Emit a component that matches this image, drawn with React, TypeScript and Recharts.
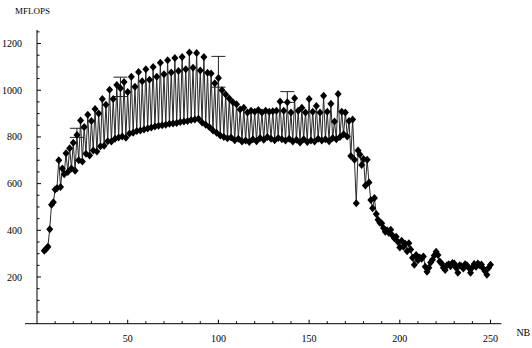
import { LineChart, Line, XAxis, YAxis, ErrorBar, ReferenceLine } from "recharts";

// MFLOPS for block size NB = 4 .. 250 (one value per NB)
const NB_START = 4;
const mflops = [
  312, 320, 330, 405, 510, 520, 575, 580,
  700, 585, 665, 640, 730, 650, 752, 665, 775, 655, 808, 700,
  870, 695, 842, 728, 895, 720, 868, 742, 920, 738, 900, 760,
  962, 762, 938, 782, 1002, 780, 962, 792, 1022, 798, 1008, 802,
  1035, 796, 992, 815, 1058, 818, 1015, 825, 1078, 828, 1038, 832,
  1090, 836, 1045, 840, 1100, 845, 1058, 848, 1118, 850, 1068, 852,
  1128, 856, 1076, 858, 1138, 860, 1082, 864, 1142, 866, 1090, 868,
  1162, 872, 1096, 875, 1160, 878, 1085, 862, 1142, 852, 1075, 842,
  1072, 828, 1030, 818, 1052, 806, 1000, 800, 982, 794, 965, 798,
  948, 786, 940, 792, 918, 780, 925, 785, 905, 778, 912, 790,
  908, 782, 915, 795, 905, 788, 912, 800, 908, 792, 910, 786,
  912, 795, 952, 790, 912, 785, 948, 792, 905, 780, 966, 788,
  912, 776, 925, 790, 905, 778, 962, 785, 908, 780, 933, 792,
  905, 785, 976, 790, 908, 782, 942, 795, 866, 790, 984, 800,
  908, 812, 905, 802, 868, 718, 875, 702, 516, 742, 725, 680,
  705, 592, 702, 605, 530, 495, 538, 470, 445, 432, 430, 410,
  394, 400, 388, 402, 378, 366, 372, 350, 326, 355, 330, 342,
  310, 345, 318, 282, 252, 294, 272, 284, 278, 288, 244, 222,
  240, 262, 274, 292, 308, 294, 266, 258, 240, 230, 250, 255,
  246, 260, 258, 240, 218, 250, 246, 236, 255, 250, 240, 218,
  242, 256, 244, 258, 250, 254, 236, 225, 210, 240, 252,
];

// [NB, error below, error above]
const errorBars: [number, number, number][] = [
  [22, 10, 29],
  [46, 35, 48],
  [100, 39, 93],
  [138, 0, 46],
];

const xTicks = [10, 20, 30, 40, 50, 60, 70, 80, 90, 100, 110, 120, 130, 140, 150, 160, 170, 180, 190, 200, 210, 220, 230, 240, 250];
const yTicks = [50, 100, 150, 200, 250, 300, 350, 400, 450, 500, 550, 600, 650, 700, 750, 800, 850, 900, 950, 1000, 1050, 1100, 1150, 1200, 1250];

const data = mflops.map((v, i) => {
  const nb = NB_START + i;
  const e = errorBars.find((b) => b[0] === nb);
  return { nb, mflops: v, err: e ? [e[1], e[2]] : undefined };
});

const FONT = "'Liberation Serif', 'DejaVu Serif', serif";

const Diamond = (props: any) => {
  const { cx, cy, index } = props;
  if (cx == null || cy == null) return <g key={index} />;
  const w = 3.5;
  const h = 4;
  return (
    <path
      key={index}
      d={`M${cx},${cy - h}L${cx + w},${cy}L${cx},${cy + h}L${cx - w},${cy}Z`}
      fill="#000"
    />
  );
};

const XTick = (props: any) => {
  const { x, y, payload } = props;
  const major = payload.value % 50 === 0;
  return (
    <g>
      <line x1={x} x2={x} y1={y} y2={y - (major ? 4 : 2.5)} stroke="#000" strokeWidth={1} />
      {major && (
        <text x={x} y={y + 18} textAnchor="middle" fontSize={10} fontFamily={FONT} fill="#000">
          {payload.value}
        </text>
      )}
    </g>
  );
};

const YTick = (props: any) => {
  const { x, y, payload } = props;
  const major = payload.value % 200 === 0;
  return (
    <g>
      <line x1={x} x2={x + (major ? 4 : 2.5)} y1={y} y2={y} stroke="#000" strokeWidth={1} />
      {major && (
        <text x={x - 15} y={y + 3.5} textAnchor="end" fontSize={10} fontFamily={FONT} fill="#000">
          {payload.value}
        </text>
      )}
    </g>
  );
};

export default function App() {
  return (
    <div style={{ width: 532, height: 348, background: "#fff" }}>
      <style>{"body{margin:0}"}</style>
      <LineChart
        width={532}
        height={348}
        data={data}
        margin={{ top: 30, right: 30.6, left: 0, bottom: 0 }}
      >
        <XAxis
          type="number"
          dataKey="nb"
          domain={[0, 256]}
          allowDataOverflow
          ticks={xTicks}
          interval={0}
          tickSize={0}
          tickMargin={0}
          tickLine={false}
          tick={<XTick />}
          height={24.3}
          axisLine={{ stroke: "#000", strokeWidth: 1 }}
          label={{ value: "NB", position: "right", offset: 15, fontSize: 10, fontFamily: FONT, fill: "#000", dy: -3 }}
        />
        <YAxis
          type="number"
          domain={[0, 1258]}
          allowDataOverflow
          ticks={yTicks}
          interval={0}
          tickSize={0}
          tickMargin={0}
          tickLine={false}
          tick={<YTick />}
          width={37}
          axisLine={{ stroke: "#000", strokeWidth: 1 }}
          label={{ value: "MFLOPS", position: "top", offset: 16, dx: 14, fontSize: 9, fontFamily: FONT, fill: "#000" }}
        />
        <ReferenceLine
          segment={[{ x: -6.6, y: 0 }, { x: 0, y: 0 }]}
          ifOverflow="visible"
          stroke="#000"
          strokeWidth={1}
        />
        <Line
          type="linear"
          dataKey="mflops"
          stroke="#2a2a2a"
          strokeWidth={1}
          dot={(p: any) => <Diamond {...p} key={p.index} />}
          activeDot={false}
          isAnimationActive={false}
        >
          <ErrorBar dataKey="err" direction="y" width={7} stroke="#222" strokeWidth={1} />
        </Line>
      </LineChart>
    </div>
  );
}
